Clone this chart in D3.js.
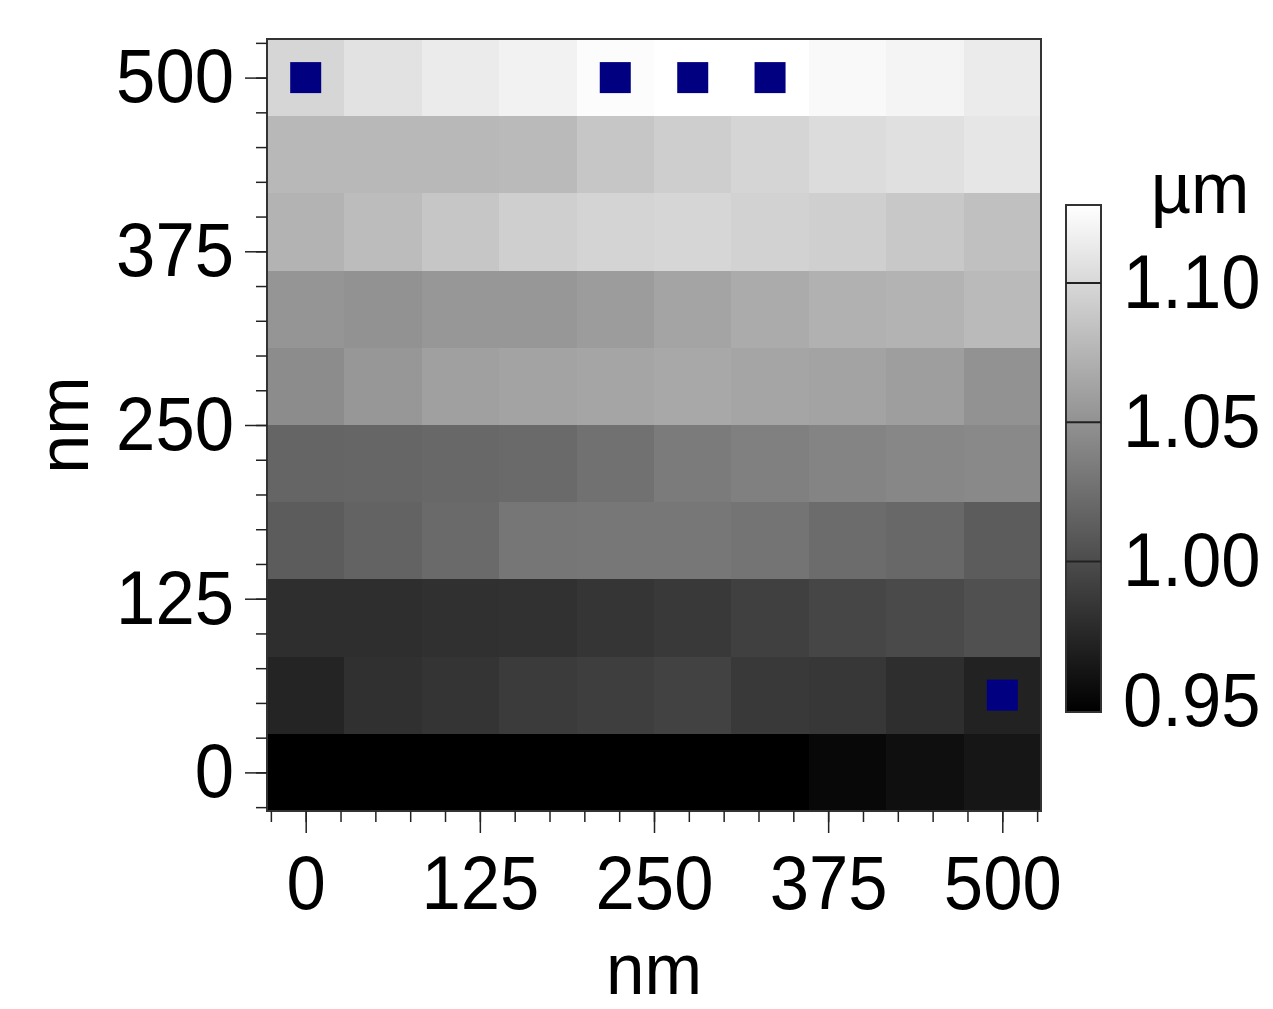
<!DOCTYPE html>
<html>
<head>
<meta charset="utf-8">
<script src="https://cdn.jsdelivr.net/npm/d3@7"></script>
<style>
  body { margin: 0; background: #fff; }
  svg { display: block; }
  text { font-family: "Liberation Sans", Arial, sans-serif; fill: #000; }
</style>
</head>
<body>
<svg id="chart" width="1273" height="1009"></svg>
<script>
// grid centres (nm)
const xNm = [0, 55.6, 111.1, 166.7, 222.2, 277.8, 333.3, 388.9, 444.4, 500];
const yNm = [0, 55.6, 111.1, 166.7, 222.2, 277.8, 333.3, 388.9, 444.4, 500];

// height (µm), one row per yNm value, bottom row first
const row0 = [0.940, 0.940, 0.940, 0.940, 0.940, 0.940, 0.940, 0.952, 0.957, 0.962];
const row1 = [0.972, 0.980, 0.983, 0.988, 0.990, 0.993, 0.987, 0.985, 0.979, 0.970];
const row2 = [0.979, 0.979, 0.980, 0.981, 0.984, 0.987, 0.992, 0.996, 0.999, 1.003];
const row3 = [1.012, 1.017, 1.022, 1.030, 1.031, 1.031, 1.029, 1.023, 1.020, 1.012];
const row4 = [1.018, 1.019, 1.020, 1.022, 1.027, 1.034, 1.037, 1.040, 1.042, 1.044];
const row5 = [1.046, 1.054, 1.060, 1.062, 1.064, 1.066, 1.064, 1.062, 1.059, 1.050];
const row6 = [1.052, 1.050, 1.054, 1.054, 1.057, 1.063, 1.068, 1.072, 1.074, 1.079];
const row7 = [1.074, 1.080, 1.087, 1.094, 1.097, 1.099, 1.096, 1.094, 1.089, 1.083];
const row8 = [1.077, 1.077, 1.077, 1.079, 1.087, 1.093, 1.098, 1.103, 1.106, 1.110];
const row9 = [1.099, 1.107, 1.114, 1.119, 1.126, 1.130, 1.130, 1.124, 1.120, 1.114];
const zRows = [row0, row1, row2, row3, row4, row5, row6, row7, row8, row9];

// marked points (nm)
const markX = [0, 222.2, 277.8, 333.3, 500];
const markY = [500, 500, 500, 500, 55.6];

const axisTicks = [0, 125, 250, 375, 500];
const barTicks  = [0.95, 1.00, 1.05, 1.10];
const zMin = 0.946, zMax = 1.128;

const svg = d3.select("#chart");
const step = 500 / 9;
const plot = { left: 267, right: 1041, top: 39, bottom: 811 };
const fs = 76, squeeze = 0.93;   // labels are a bit taller than wide

const x = d3.scaleLinear().domain([-step / 2, 500 + step / 2]).range([plot.left, plot.right]);
const y = d3.scaleLinear().domain([-step / 2, 500 + step / 2]).range([plot.bottom, plot.top]);
const color = d3.scaleLinear().domain([zMin, zMax]).range(["#000", "#fff"]).clamp(true);

const cells = [];
zRows.forEach((row, j) => row.forEach((v, i) => cells.push({ x: xNm[i], y: yNm[j], v })));

const cw = x(step) - x(0), ch = y(0) - y(step);
svg.append("g").attr("shape-rendering", "crispEdges")
  .selectAll("rect").data(cells).join("rect")
  .attr("x", d => x(d.x) - cw / 2)
  .attr("y", d => y(d.y) - ch / 2)
  .attr("width", cw)
  .attr("height", ch)
  .attr("fill", d => color(d.v));

// markers
const ms = 31;
svg.append("g").selectAll("rect").data(markX.map((v, i) => [v, markY[i]])).join("rect")
  .attr("x", d => x(d[0]) - ms / 2)
  .attr("y", d => y(d[1]) - ms / 2)
  .attr("width", ms).attr("height", ms)
  .attr("fill", "#000080");

// frame
svg.append("rect")
  .attr("x", plot.left).attr("y", plot.top)
  .attr("width", plot.right - plot.left).attr("height", plot.bottom - plot.top)
  .attr("fill", "none").attr("stroke", "#333").attr("stroke-width", 2);

const minor = d3.range(-25, 526, 25);
function styleAxis(g) {
  g.select(".domain").remove();
  g.selectAll("line").attr("stroke", "#222").attr("stroke-width", 1.5);
  g.selectAll("text").attr("font-size", fs).attr("font-family", '"Liberation Sans", Arial, sans-serif')
    .attr("x", function () { return (+d3.select(this).attr("x") || 0) / squeeze; })
    .attr("transform", `scale(${squeeze},1)`);
}

// y axis
svg.append("g").attr("transform", `translate(${plot.left},0)`)
  .call(d3.axisLeft(y).tickValues(minor).tickSize(11).tickFormat(""))
  .call(styleAxis);
svg.append("g").attr("transform", `translate(${plot.left},0)`)
  .call(d3.axisLeft(y).tickValues(axisTicks).tickSize(22).tickPadding(11).tickFormat(d3.format("d")))
  .call(styleAxis);

// x axis
svg.append("g").attr("transform", `translate(0,${plot.bottom})`)
  .call(d3.axisBottom(x).tickValues(minor).tickSize(11).tickFormat(""))
  .call(styleAxis);
svg.append("g").attr("transform", `translate(0,${plot.bottom})`)
  .call(d3.axisBottom(x).tickValues(axisTicks).tickSize(22).tickPadding(22).tickFormat(d3.format("d")))
  .call(styleAxis);

// axis titles
svg.append("text").attr("transform", `translate(${x(250)},994) scale(0.96,1)`)
  .attr("text-anchor", "middle").attr("font-size", 72).text("nm");
svg.append("text").attr("transform", `translate(88,${y(250)}) rotate(-90) scale(0.96,1)`)
  .attr("text-anchor", "middle").attr("font-size", 73).text("nm");

// colour bar
const bar = { x: 1066, w: 35, top: 205, bottom: 712 };
const cy = d3.scaleLinear().domain([zMin, zMax]).range([bar.bottom, bar.top]);
const grad = svg.append("defs").append("linearGradient")
  .attr("id", "cbar").attr("x1", 0).attr("y1", 1).attr("x2", 0).attr("y2", 0);
grad.append("stop").attr("offset", "0%").attr("stop-color", color(zMin));
grad.append("stop").attr("offset", "100%").attr("stop-color", color(zMax));

svg.append("rect")
  .attr("x", bar.x).attr("y", bar.top).attr("width", bar.w).attr("height", bar.bottom - bar.top)
  .attr("fill", "url(#cbar)").attr("stroke", "#333").attr("stroke-width", 2);

svg.append("g").selectAll("line").data(barTicks.filter(d => d >= 1.0)).join("line")
  .attr("x1", bar.x).attr("x2", bar.x + bar.w)
  .attr("y1", d => cy(d)).attr("y2", d => cy(d))
  .attr("stroke", "#222").attr("stroke-width", 2);

svg.append("g").attr("transform", `translate(${bar.x + bar.w},0)`)
  .call(d3.axisRight(cy).tickValues(barTicks).tickSize(0).tickPadding(22).tickFormat(d3.format(".2f")))
  .call(styleAxis);

svg.append("text").attr("transform", "translate(1200,213) scale(0.96,1)")
  .attr("text-anchor", "middle").attr("font-size", 73).text("µm");
</script>
</body>
</html>
